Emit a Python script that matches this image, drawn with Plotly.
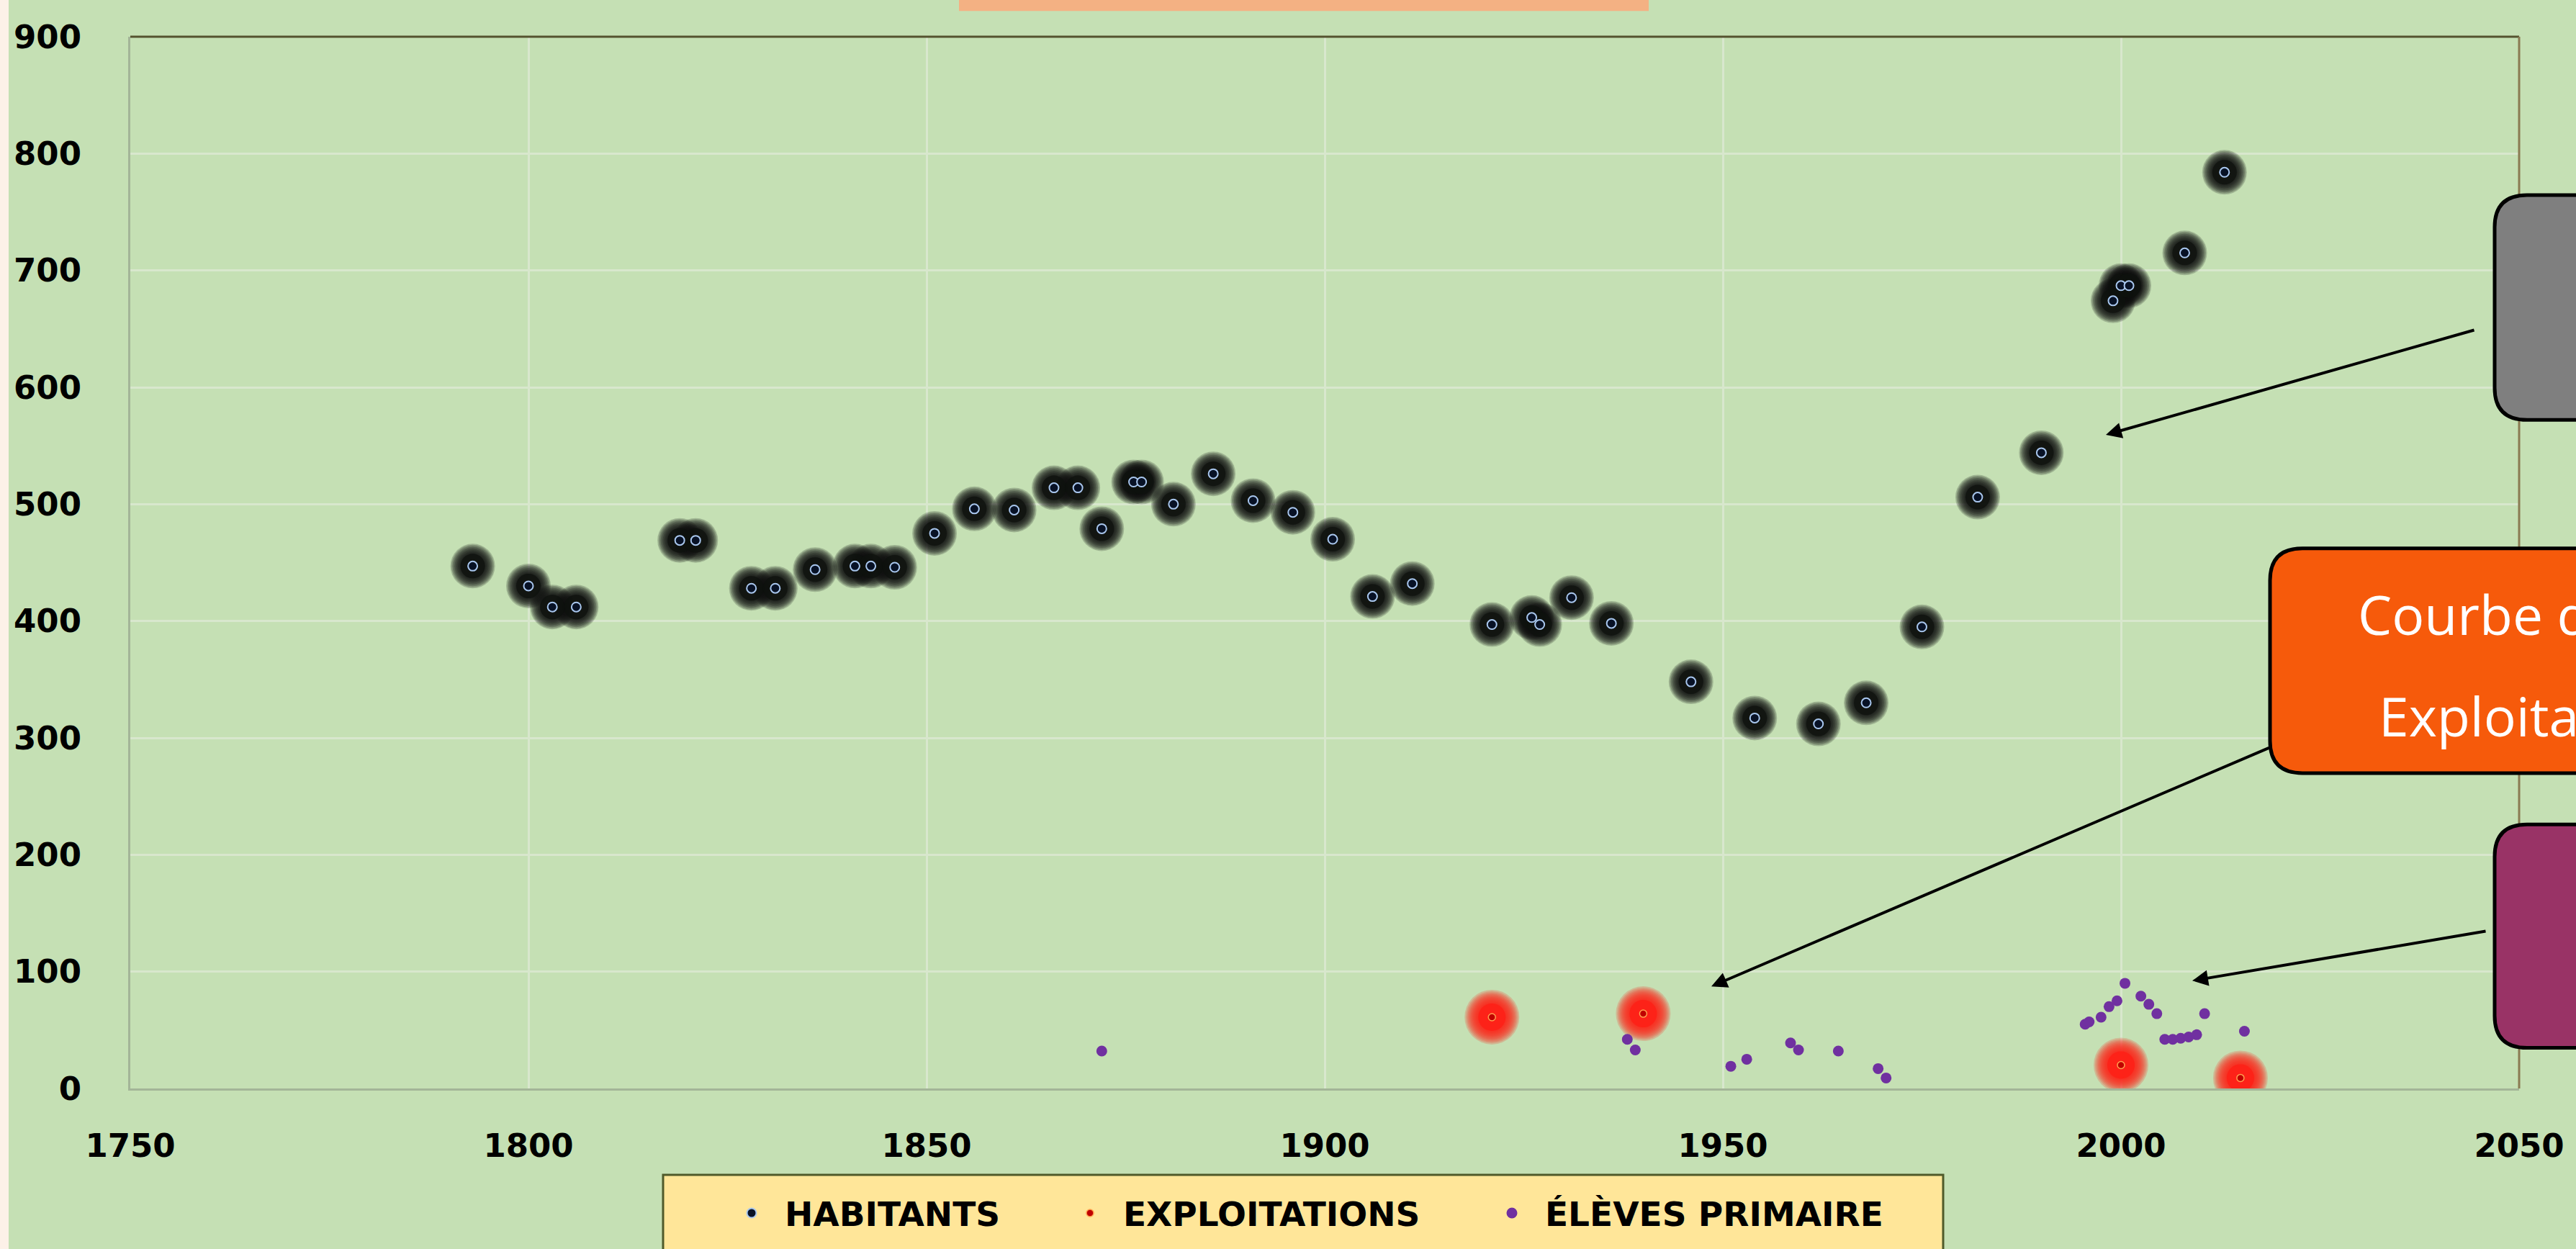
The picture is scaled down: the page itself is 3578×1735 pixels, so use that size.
import plotly.graph_objects as go

# ---------------- data ----------------
hab_years = [1793, 1800, 1803, 1806, 1819, 1821, 1828, 1831, 1836, 1841, 1843, 1846,
             1851, 1856, 1861, 1866, 1869, 1872, 1876, 1877, 1881, 1886, 1891, 1896,
             1901, 1906, 1911, 1921, 1926, 1927, 1931, 1936, 1946, 1954, 1962, 1968,
             1975, 1982, 1990, 1999, 2000, 2001, 2008, 2013]
hab_vals = [447, 430, 412, 412, 469, 469, 428, 428, 444, 447, 447, 446,
            475, 496, 495, 514, 514, 479, 519, 519, 500, 526, 503, 493,
            470, 421, 432, 397, 403, 397, 420, 398, 348, 317, 312, 330,
            395, 506, 544, 674, 687, 687, 715, 784]

expl_years = [1921, 1940, 2000, 2015]
expl_vals = [61, 64, 20, 9]

eleves_years = [1872, 1938, 1939, 1951, 1953, 1958.5, 1959.5, 1964.5, 1969.5, 1970.5,
                1995.5, 1996, 1997.5, 1998.5, 1999.5, 2000.5, 2002.5, 2003.5, 2004.5,
                2005.5, 2006.5, 2007.5, 2008.5, 2009.5, 2010.5, 2015.5]
eleves_vals = [32, 42, 33, 19, 25, 39, 33, 32, 17, 9,
               55, 57, 61, 70, 75, 90, 79, 72, 64,
               42, 42, 43, 44, 46, 64, 49]

series_names = ["HABITANTS", "EXPLOITATIONS", "ÉLÈVES PRIMAIRE"]
x_ticks = [1750, 1800, 1850, 1900, 1950, 2000, 2050]
y_ticks = [0, 100, 200, 300, 400, 500, 600, 700, 800, 900]

# ---------------- geometry helpers (pixel -> paper) ----------------
FW, FH = 3578, 1735
L, R, T, B = 181, 3499, 51, 1525
W, H = R - L, B - T


def px(x):
    return (x - L) / W


def py(y):
    return (B - y) / H


def rounded_left_box(left, top, right, bottom, r):
    pts = [
        f"M {px(left + r)},{py(top)}",
        f"L {px(right)},{py(top)}",
        f"L {px(right)},{py(bottom)}",
        f"L {px(left + r)},{py(bottom)}",
        f"Q {px(left)},{py(bottom)} {px(left)},{py(bottom - r)}",
        f"L {px(left)},{py(top + r)}",
        f"Q {px(left)},{py(top)} {px(left + r)},{py(top)}",
        "Z",
    ]
    return " ".join(pts)


BG = "#c5e0b4"

fig = go.Figure()


def add_glow(xs, ys, sizes, rgb, alpha):
    # soft halo faked with stacked translucent discs
    for s in sizes:
        fig.add_trace(go.Scatter(
            x=xs, y=ys, mode="markers", showlegend=False, hoverinfo="skip",
            marker=dict(size=s, color=f"rgba({rgb},{alpha})", line=dict(width=0))))


# HABITANTS halo + core
add_glow(hab_years, hab_vals, [62, 59, 56, 53, 50, 47, 44, 41, 38, 35], "14,17,14", 0.2)
add_glow(hab_years, hab_vals, [34], "14,17,14", 0.75)
fig.add_trace(go.Scatter(
    x=hab_years, y=hab_vals, mode="markers", name=series_names[0], legend="legend",
    marker=dict(size=13, color="#081226", line=dict(color="#a9c7ee", width=2))))

# EXPLOITATIONS halo + core
add_glow(expl_years, expl_vals, [76, 72, 68, 64, 60, 56, 52, 48, 44, 40], "255,30,20", 0.2)
add_glow(expl_years, expl_vals, [38], "255,30,20", 0.75)
fig.add_trace(go.Scatter(
    x=expl_years, y=expl_vals, mode="markers", name=series_names[1], legend="legend2",
    marker=dict(size=10, color="#c00000", line=dict(color="#ffa050", width=1.5))))

# ÉLÈVES PRIMAIRE
fig.add_trace(go.Scatter(
    x=eleves_years, y=eleves_vals, mode="markers", name=series_names[2], legend="legend3",
    marker=dict(size=15, color="#7030a0", line=dict(width=0))))

tick_font = dict(family="DejaVu Sans", size=45, color="black", weight="bold")
leg_font = dict(family="DejaVu Sans", size=47, color="black", weight="bold")

shapes = [
    # left pale stripe
    dict(type="rect", xref="paper", yref="paper", x0=px(-5), x1=px(12), y0=py(FH + 20), y1=py(-5),
         fillcolor="#fdf1e8", line=dict(width=0), layer="above"),
    # title box (cut at top)
    dict(type="rect", xref="paper", yref="paper", x0=px(1332), x1=px(2290), y0=py(15), y1=py(-10),
         fillcolor="#f4b183", line=dict(width=0), layer="above"),
    # top & right frame
    dict(type="line", xref="paper", yref="paper", x0=0, x1=1, y0=1, y1=1,
         line=dict(color="#55532f", width=3), layer="above"),
    dict(type="line", xref="paper", yref="paper", x0=1, x1=1, y0=0, y1=1,
         line=dict(color="#8a7a52", width=3), layer="above"),
    # legend box
    dict(type="rect", xref="paper", yref="paper", x0=px(921), x1=px(2699), y0=py(1800), y1=py(1646),
         fillcolor="#ffe699", line=dict(color="#4f5a2a", width=3), layer="above"),
    # callout boxes (cut at right edge)
    dict(type="path", xref="paper", yref="paper", path=rounded_left_box(3465, 273, 3720, 588, 45),
         fillcolor="#7f7f7f", line=dict(color="black", width=5), layer="above"),
    dict(type="path", xref="paper", yref="paper", path=rounded_left_box(3153, 768, 3720, 1083, 45),
         fillcolor="#f65a0b", line=dict(color="black", width=5), layer="above"),
    dict(type="path", xref="paper", yref="paper", path=rounded_left_box(3465, 1155, 3720, 1468, 45),
         fillcolor="#993366", line=dict(color="black", width=5), layer="above"),
]

arrows = [((3438, 463), (2925, 609)),
          ((3153, 1050), (2377, 1382)),
          ((3454, 1305), (3045, 1374))]
annotations = []
for (tx, ty), (hx, hy) in arrows:
    annotations.append(dict(
        xref="paper", yref="paper", x=px(hx), y=py(hy), ax=tx - hx, ay=ty - hy,
        text="", showarrow=True, arrowhead=2, arrowsize=1.1, arrowwidth=4, arrowcolor="black"))

callout_font = dict(family="Open Sans", size=75, color="white")
annotations.append(dict(xref="paper", yref="paper", x=px(3273), y=py(860), xanchor="left",
                        yanchor="middle", text="Courbe des", showarrow=False, font=callout_font))
annotations.append(dict(xref="paper", yref="paper", x=px(3302), y=py(1002), xanchor="left",
                        yanchor="middle", text="Exploitations", showarrow=False, font=callout_font))

leg_common = dict(orientation="h", bgcolor="rgba(0,0,0,0)", borderwidth=0, font=leg_font,
                  xanchor="left", yanchor="middle", y=py(1700), itemsizing="trace",
                  itemwidth=82)

fig.update_layout(
    width=FW, height=FH,
    margin=dict(l=L, r=FW - R, t=T, b=FH - B, pad=0),
    paper_bgcolor=BG, plot_bgcolor=BG,
    shapes=shapes, annotations=annotations,
    legend=dict(**leg_common, x=px(1044 - 46)),
    legend2=dict(**leg_common, x=px(1514 - 46)),
    legend3=dict(**leg_common, x=px(2100 - 46)),
    xaxis=dict(range=[1750, 2050], tickvals=x_ticks, showgrid=True, gridcolor="#d8e7cd", gridwidth=3,
               showline=True, linecolor="#a3b598", linewidth=3, zeroline=False, ticks="",
               tickfont=tick_font, ticklabelstandoff=38),
    yaxis=dict(range=[0, 900], tickvals=y_ticks, showgrid=True, gridcolor="#d8e7cd", gridwidth=3,
               showline=True, linecolor="#a3b598", linewidth=3, zeroline=False, ticks="",
               tickfont=tick_font, ticklabelstandoff=56),
)

fig.write_html("out.html", config={"displayModeBar": False},
               post_script="document.body.style.margin='0';document.body.style.overflow='hidden';"
                           "document.body.style.background='#c5e0b4';")
